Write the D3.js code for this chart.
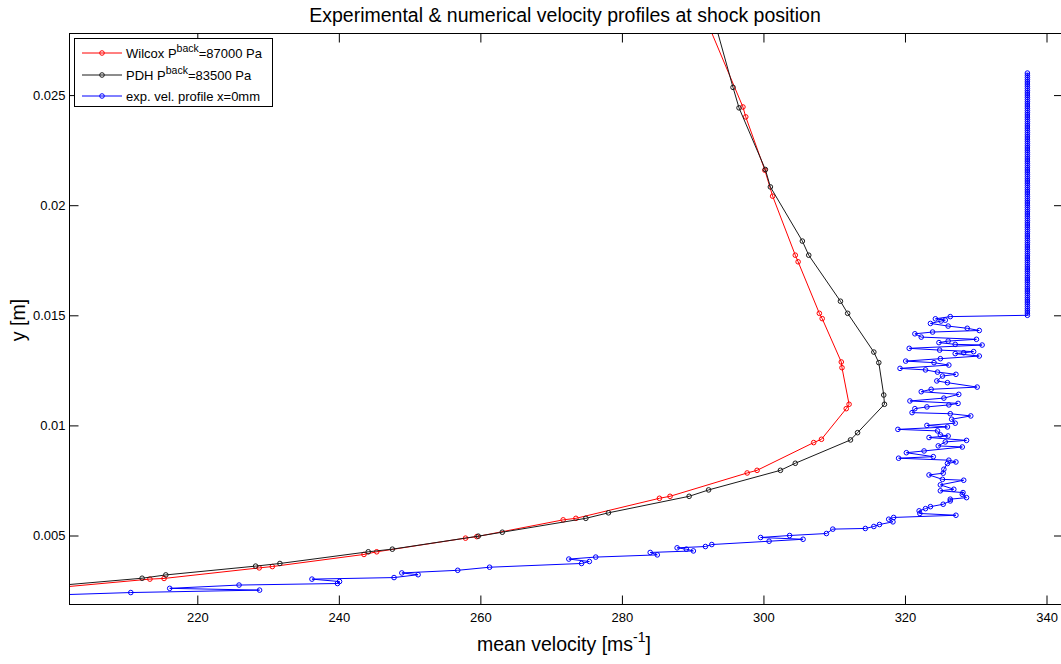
<!DOCTYPE html>
<html>
<head>
<meta charset="utf-8">
<script src="https://cdn.jsdelivr.net/npm/d3@7"></script>
<style>
  body { margin: 0; background: #fff; }
  svg { display: block; }
  text { font-family: "Liberation Sans", Arial, Helvetica, sans-serif; fill: #000; }
</style>
</head>
<body>
<svg id="chart" width="1061" height="664"></svg>
<script>
// Wilcox k-omega profile, back pressure 87000 Pa (velocity m/s, wall distance m)
const wilcoxVelocity = [290.5, 297.1, 297.5, 300.2, 301.3, 304.5, 304.9, 307.9, 308.3, 311.0,
  311.1, 312.1, 311.7, 308.2, 307.1, 299.1, 297.7, 286.8, 285.3, 273.5,
  271.7, 259.5, 257.9, 245.35, 243.55, 230.6, 228.75, 215.3, 213.3, 200.0];
const wilcoxY = [0.0295, 0.02446, 0.02401, 0.02159, 0.02041, 0.01773, 0.01743, 0.01509, 0.01485, 0.01288,
  0.01262, 0.01096, 0.01076, 0.00937, 0.00922, 0.00796, 0.00784, 0.00678, 0.00669, 0.00578,
  0.00571, 0.00495, 0.00488, 0.00426, 0.00414, 0.00359, 0.00353, 0.00305, 0.00302, 0.00263];

// PDH model profile, back pressure 83500 Pa
const pdhVelocity = [292.1, 295.7, 296.55, 300.27, 300.98, 305.5, 306.4, 310.88, 311.9, 315.6,
  316.3, 317.0, 317.1, 313.3, 312.3, 304.5, 302.4, 292.25, 289.5, 278.1,
  274.9, 263.1, 259.7, 247.56, 244.16, 231.67, 228.24, 215.55, 212.2, 200.0];
const pdhY = [0.0295, 0.02535, 0.02442, 0.02162, 0.02083, 0.01837, 0.01773, 0.01564, 0.01509, 0.01333,
  0.01285, 0.01138, 0.01096, 0.00967, 0.00934, 0.00828, 0.00796, 0.00707, 0.00678, 0.00603,
  0.00578, 0.00515, 0.00497, 0.00438, 0.00426, 0.00373, 0.00361, 0.00321, 0.00306, 0.00272];

// Measured profile at x = 0 mm, lower (boundary layer) part
const expVelocity = [195.0, 210.6, 228.8, 216.1, 225.9, 239.8, 240.1, 236.2, 247.8, 251.2,
  248.9, 256.8, 261.3, 274.3, 275.4, 272.5, 276.3, 285.0, 284.0, 290.1,
  289.1, 287.8, 291.8, 292.7, 300.8, 305.6, 299.6, 303.7, 308.9, 309.8,
  314.4, 315.6, 316.4, 318.3, 317.7, 318.4, 327.2, 322.1, 322.0, 322.9,
  323.6, 325.4, 326.4, 326.4, 328.7, 328.1, 328.2, 325.0, 326.9, 325.0,
  328.3, 325.3, 323.4, 325.4, 325.5, 326.0, 327.2, 326.2, 319.1, 324.0,
  320.2, 322.7, 328.1, 324.7, 325.7, 328.7, 323.4, 326.1, 325.0, 324.6,
  319.0, 326.0, 323.1, 327.1, 326.6, 329.3, 326.4, 321.0, 321.4, 323.1,
  326.2, 327.5, 320.7, 325.5, 327.6, 322.3, 323.7, 330.2, 326.0, 324.5,
  325.3, 327.2, 324.6, 322.9, 319.3, 326.2, 324.1, 320.1, 325.0, 330.5,
  327.1, 328.3, 329.7, 324.9, 320.6, 330.9, 327.1, 324.8, 326.1, 330.1,
  322.3, 321.4, 323.9, 330.5, 328.8, 326.1, 323.6, 325.1, 325.7, 324.3,
  326.4];
const expY = [0.00225, 0.00241, 0.00252, 0.00260, 0.00275, 0.00282, 0.00291, 0.00302, 0.00309, 0.00322,
  0.00330, 0.00342, 0.00356, 0.00373, 0.00382, 0.00393, 0.00402, 0.00412, 0.00423, 0.00430,
  0.00438, 0.00444, 0.00450, 0.00459, 0.00474, 0.00483, 0.00491, 0.00500, 0.00509, 0.00529,
  0.00532, 0.00541, 0.00550, 0.00562, 0.00574, 0.00582, 0.00592, 0.00600, 0.00612, 0.00622,
  0.00631, 0.00642, 0.00657, 0.00665, 0.00672, 0.00687, 0.00695, 0.00703, 0.00710, 0.00730,
  0.00751, 0.00755, 0.00775, 0.00783, 0.00801, 0.00827, 0.00834, 0.00842, 0.00851, 0.00858,
  0.00876, 0.00884, 0.00902, 0.00907, 0.00925, 0.00932, 0.00945, 0.00952, 0.00957, 0.00975,
  0.00982, 0.00993, 0.01000, 0.01010, 0.01028, 0.01043, 0.01053, 0.01058, 0.01076, 0.01084,
  0.01093, 0.01100, 0.01111, 0.01124, 0.01141, 0.01153, 0.01164, 0.01174, 0.01194, 0.01202,
  0.01224, 0.01232, 0.01242, 0.01252, 0.01259, 0.01274, 0.01285, 0.01292, 0.01303, 0.01315,
  0.01326, 0.01330, 0.01335, 0.01342, 0.01350, 0.01365, 0.01368, 0.01376, 0.01383, 0.01391,
  0.01401, 0.01416, 0.01424, 0.01431, 0.01441, 0.01451, 0.01463, 0.01474, 0.01478, 0.01484,
  0.01494];

// Measured profile, upper (core flow) part
const expCoreVelocity = [
  337.3, 337.3, 337.3, 337.3, 337.3, 337.3, 337.3, 337.3, 337.3, 337.3,
  337.3, 337.3, 337.3, 337.3, 337.3, 337.3, 337.3, 337.3, 337.3, 337.3,
  337.3, 337.3, 337.3, 337.3, 337.3, 337.3, 337.3, 337.3, 337.3, 337.3,
  337.3, 337.3, 337.3, 337.3, 337.3, 337.3, 337.3, 337.3, 337.3, 337.3,
  337.3, 337.3, 337.3, 337.3, 337.3, 337.3, 337.3, 337.3, 337.3, 337.3,
  337.3, 337.3, 337.3, 337.3, 337.3, 337.3, 337.3, 337.3, 337.3, 337.3,
  337.3, 337.3, 337.3, 337.3, 337.3, 337.3, 337.3, 337.3, 337.3, 337.3,
  337.3, 337.3, 337.3, 337.3, 337.3, 337.3, 337.3, 337.3, 337.3, 337.3,
  337.3, 337.3, 337.3, 337.3, 337.3, 337.3, 337.3, 337.3, 337.3, 337.3,
  337.3, 337.3, 337.3, 337.3, 337.3, 337.3, 337.3, 337.3, 337.3, 337.3,
  337.3, 337.3, 337.3, 337.3, 337.3, 337.3, 337.3, 337.3, 337.3, 337.3,
  337.3];
const expCoreY = [
  0.0150, 0.0151, 0.0152, 0.0153, 0.0154, 0.0155, 0.0156, 0.0157, 0.0158, 0.0159,
  0.0160, 0.0161, 0.0162, 0.0163, 0.0164, 0.0165, 0.0166, 0.0167, 0.0168, 0.0169,
  0.0170, 0.0171, 0.0172, 0.0173, 0.0174, 0.0175, 0.0176, 0.0177, 0.0178, 0.0179,
  0.0180, 0.0181, 0.0182, 0.0183, 0.0184, 0.0185, 0.0186, 0.0187, 0.0188, 0.0189,
  0.0190, 0.0191, 0.0192, 0.0193, 0.0194, 0.0195, 0.0196, 0.0197, 0.0198, 0.0199,
  0.0200, 0.0201, 0.0202, 0.0203, 0.0204, 0.0205, 0.0206, 0.0207, 0.0208, 0.0209,
  0.0210, 0.0211, 0.0212, 0.0213, 0.0214, 0.0215, 0.0216, 0.0217, 0.0218, 0.0219,
  0.0220, 0.0221, 0.0222, 0.0223, 0.0224, 0.0225, 0.0226, 0.0227, 0.0228, 0.0229,
  0.0230, 0.0231, 0.0232, 0.0233, 0.0234, 0.0235, 0.0236, 0.0237, 0.0238, 0.0239,
  0.0240, 0.0241, 0.0242, 0.0243, 0.0244, 0.0245, 0.0246, 0.0247, 0.0248, 0.0249,
  0.0250, 0.0251, 0.0252, 0.0253, 0.0254, 0.0255, 0.0256, 0.0257, 0.0258, 0.0259,
  0.0260];

const xTicks = [220, 240, 260, 280, 300, 320, 340];
const xTickLabels = ["220", "240", "260", "280", "300", "320", "340"];
const yTicks = [0.005, 0.01, 0.015, 0.02, 0.025];
const yTickLabels = ["0.005", "0.01", "0.015", "0.02", "0.025"];

// ---------- layout ----------
const svg = d3.select("#chart");
const plot = { left: 69.5, right: 1063, top: 33.5, bottom: 604.5 };

const x = d3.scaleLinear().domain([201.94, 342.33]).range([plot.left, plot.right]);
const y = d3.scaleLinear().domain([0.001867, 0.027797]).range([plot.bottom, plot.top]);

svg.append("defs").append("clipPath").attr("id", "plotArea")
  .append("rect")
  .attr("x", plot.left).attr("y", plot.top)
  .attr("width", plot.right - plot.left).attr("height", plot.bottom - plot.top);

// ---------- data series ----------
const series = [
  { color: "#ff0000", u: wilcoxVelocity, y: wilcoxY },
  { color: "#1a1a1a", u: pdhVelocity, y: pdhY },
  { color: "#0000ff", u: expVelocity.concat(expCoreVelocity), y: expY.concat(expCoreY) }
];

const line = d3.line().x(d => x(d[0])).y(d => y(d[1]));
const dataLayer = svg.append("g").attr("clip-path", "url(#plotArea)");

series.forEach(s => {
  const pts = s.u.map((u, i) => [u, s.y[i]]);
  const g = dataLayer.append("g");
  g.append("path")
    .datum(pts)
    .attr("d", line)
    .attr("fill", "none")
    .attr("stroke", s.color)
    .attr("stroke-width", 1);
  g.selectAll("circle")
    .data(pts)
    .join("circle")
    .attr("cx", d => x(d[0]))
    .attr("cy", d => y(d[1]))
    .attr("r", 2.3)
    .attr("fill", "none")
    .attr("stroke", s.color)
    .attr("stroke-width", 1);
});

// ---------- axes (inward ticks on all four sides) ----------
const tickLen = 9;
const fontTick = "13px";

const axB = svg.append("g").attr("transform", `translate(0,${plot.bottom})`)
  .call(d3.axisBottom(x).tickValues(xTicks).tickFormat((d, i) => xTickLabels[i])
    .tickSize(-tickLen).tickSizeOuter(0).tickPadding(8));
const axT = svg.append("g").attr("transform", `translate(0,${plot.top})`)
  .call(d3.axisTop(x).tickValues(xTicks).tickFormat("")
    .tickSize(-tickLen).tickSizeOuter(0));
const axL = svg.append("g").attr("transform", `translate(${plot.left},0)`)
  .call(d3.axisLeft(y).tickValues(yTicks).tickFormat((d, i) => yTickLabels[i])
    .tickSize(-tickLen).tickSizeOuter(0).tickPadding(4));
const axR = svg.append("g").attr("transform", `translate(${plot.right},0)`)
  .call(d3.axisRight(y).tickValues(yTicks).tickFormat("")
    .tickSize(-tickLen).tickSizeOuter(0));

[axB, axT, axL, axR].forEach(a => {
  a.select(".domain").remove();
  a.selectAll(".tick line").attr("stroke", "#000").attr("stroke-width", 1);
  a.selectAll("text")
    .attr("font-family", "'Liberation Sans', Arial, sans-serif")
    .attr("font-size", fontTick)
    .attr("fill", "#111");
});

svg.append("rect")
  .attr("x", plot.left).attr("y", plot.top)
  .attr("width", plot.right - plot.left).attr("height", plot.bottom - plot.top)
  .attr("fill", "none").attr("stroke", "#000").attr("stroke-width", 1);

// ---------- titles ----------
svg.append("text")
  .attr("x", 565).attr("y", 22)
  .attr("text-anchor", "middle")
  .attr("font-size", "19.5px")
  .text("Experimental & numerical velocity profiles at shock position");

const xl = svg.append("text")
  .attr("x", 564).attr("y", 651)
  .attr("text-anchor", "middle")
  .attr("font-size", "19.5px");
xl.append("tspan").text("mean velocity [ms");
xl.append("tspan").attr("dy", -9).attr("font-size", "14px").text("-1");
xl.append("tspan").attr("dy", 9).text("]");

svg.append("text")
  .attr("transform", "translate(25,320) rotate(-90)")
  .attr("text-anchor", "middle")
  .attr("font-size", "19.5px")
  .text("y [m]");

// ---------- legend ----------
const legend = svg.append("g");
legend.append("rect")
  .attr("x", 74.5).attr("y", 38.5).attr("width", 198).attr("height", 68)
  .attr("fill", "#fff").attr("stroke", "#000").attr("stroke-width", 1);

const legendEntries = [
  { color: "#ff0000", parts: ["Wilcox P", "back", "=87000 Pa"] },
  { color: "#1a1a1a", parts: ["PDH P", "back", "=83500 Pa"] },
  { color: "#0000ff", parts: ["exp. vel. profile x=0mm"] }
];
const legendRows = [53, 75, 96];

legendEntries.forEach((e, i) => {
  const cy = legendRows[i];
  legend.append("line")
    .attr("x1", 82).attr("x2", 122).attr("y1", cy).attr("y2", cy)
    .attr("stroke", e.color).attr("stroke-width", 1);
  legend.append("circle")
    .attr("cx", 102).attr("cy", cy).attr("r", 2.3)
    .attr("fill", "none").attr("stroke", e.color).attr("stroke-width", 1);
  const t = legend.append("text")
    .attr("x", 126).attr("y", cy + 5)
    .attr("font-size", "13px");
  t.append("tspan").text(e.parts[0]);
  if (e.parts.length > 1) {
    t.append("tspan").attr("dy", -6).attr("font-size", "10.5px").text(e.parts[1]);
    t.append("tspan").attr("dy", 6).text(e.parts[2]);
  }
});
</script>
</body>
</html>
